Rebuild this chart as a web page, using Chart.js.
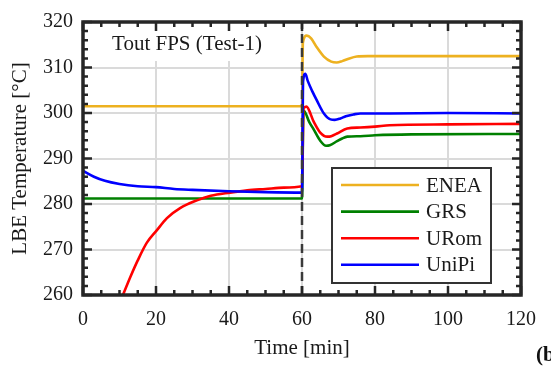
<!DOCTYPE html>
<html>
<head>
<meta charset="utf-8">
<script src="https://cdn.jsdelivr.net/npm/chart.js@4"></script>
<style>
  html, body { margin: 0; padding: 0; background: #fff; }
  canvas { display: block; }
</style>
</head>
<body>
<canvas id="chart" width="551" height="368"></canvas>
<script>
const FONT = '"Liberation Serif", "Times New Roman", serif';

// time [min] / LBE temperature [°C]
const eneaTime = [0, 60, 60.25, 61.3, 62.5, 64, 66, 68, 69.5, 71, 73, 75, 78, 90, 120];
const eneaTemp = [301.5, 301.5, 315.5, 317.0, 316.4, 314.5, 312.4, 311.3, 311.1, 311.4, 312.0, 312.4, 312.5, 312.5, 312.5];

const grsTime = [0, 60, 60.4, 62, 63.2, 65, 66.6, 67.6, 69.6, 71, 72.4, 76, 80, 90, 120];
const grsTemp = [281.2, 281.2, 300.6, 298.0, 296.4, 293.9, 292.8, 292.9, 293.8, 294.4, 294.8, 294.9, 295.1, 295.3, 295.4];

const uromTime = [11, 13, 15, 17.5, 20.2, 23, 26.6, 31.2, 35, 40.3, 45, 50, 55, 60, 60.4, 61.2, 63.2, 65, 66.9, 68, 69.6, 72.4, 76, 80, 84, 100, 120];
const uromTemp = [260.1, 264.0, 267.6, 271.5, 274.2, 276.9, 279.1, 280.8, 281.8, 282.5, 283.0, 283.3, 283.6, 283.9, 301.0, 301.4, 298.1, 295.7, 294.8, 294.9, 295.5, 296.6, 296.8, 297.0, 297.3, 297.5, 297.6];

const unipiTime = [0, 3, 6, 10, 15, 20, 25, 30, 40, 50, 60, 60.3, 60.9, 61.6, 62.8, 64.1, 66, 67.8, 69, 70.5, 72, 74.2, 76, 84, 100, 120];
const unipiTemp = [287.3, 286.0, 285.1, 284.4, 283.9, 283.7, 283.3, 283.1, 282.8, 282.6, 282.5, 307.0, 308.6, 307.0, 304.8, 302.7, 299.9, 298.6, 298.5, 298.8, 299.3, 299.7, 299.9, 299.9, 300.0, 299.9];

const seriesNames = ['ENEA', 'GRS', 'URom', 'UniPi'];
const seriesColors = ['#EDB120', '#008000', '#FF0000', '#0000FF'];

const xTicks = [0, 20, 40, 60, 80, 100, 120];
const yTicks = [260, 270, 280, 290, 300, 310, 320];
const stepTime = 60;
const annotation = 'Tout FPS (Test-1)';

function pts(t, v) {
  return t.map((x, i) => ({ x: x, y: v[i] }));
}

const seriesData = [
  pts(eneaTime, eneaTemp),
  pts(grsTime, grsTemp),
  pts(uromTime, uromTemp),
  pts(unipiTime, unipiTemp)
];

const datasets = seriesData.map((d, i) => ({
  label: seriesNames[i],
  data: d,
  borderColor: seriesColors[i],
  borderWidth: 2.6,
  pointRadius: 0,
  cubicInterpolationMode: 'monotone',
  order: 4 - i
}));

// vertical dashed line at the step
datasets.push({
  label: 'step',
  data: [{ x: stepTime, y: yTicks[0] }, { x: stepTime, y: yTicks[yTicks.length - 1] }],
  borderColor: '#3a3a3a',
  borderWidth: 2.5,
  borderDash: [9, 5],
  pointRadius: 0,
  order: 0
});

// white box with the case title
const notePlugin = {
  id: 'note',
  beforeDatasetsDraw(c) {
    const ctx = c.ctx;
    ctx.save();
    ctx.fillStyle = '#fff';
    ctx.fillRect(97, 14, 174, 47);
    ctx.fillStyle = '#1a1a1a';
    ctx.font = '21px ' + FONT;
    ctx.textAlign = 'center';
    ctx.textBaseline = 'middle';
    ctx.fillText(annotation, 187, 44);
    ctx.restore();
  }
};

// thick frame and inward ticks on all four sides
const framePlugin = {
  id: 'frame',
  afterDatasetsDraw(c) {
    const ctx = c.ctx;
    const a = c.chartArea;
    const xs = c.scales.x, ys = c.scales.y;
    ctx.save();
    ctx.strokeStyle = '#262626';
    ctx.lineWidth = 2.5;
    ctx.beginPath();
    for (let v = xs.min; v <= xs.max; v += 5) {
      const px = xs.getPixelForValue(v);
      const len = v % 20 === 0 ? 9 : 5;
      ctx.moveTo(px, a.bottom); ctx.lineTo(px, a.bottom - len);
      ctx.moveTo(px, a.top); ctx.lineTo(px, a.top + len);
    }
    for (let v = ys.min; v <= ys.max; v += 2) {
      const py = ys.getPixelForValue(v);
      const len = v % 10 === 0 ? 9 : 5;
      ctx.moveTo(a.left, py); ctx.lineTo(a.left + len, py);
      ctx.moveTo(a.right, py); ctx.lineTo(a.right - len, py);
    }
    ctx.stroke();
    ctx.lineWidth = 3.5;
    ctx.strokeRect(a.left, a.top, a.right - a.left, a.bottom - a.top);

    // panel letter, cut by the right edge as in the figure
    ctx.fillStyle = '#111';
    ctx.font = 'bold 21px ' + FONT;
    ctx.textAlign = 'left';
    ctx.textBaseline = 'middle';
    ctx.fillText('(b)', 536, 356);
    ctx.restore();
  }
};

// boxed legend inside the plot, lower right
const legendPlugin = {
  id: 'boxLegend',
  afterDraw(c) {
    const ctx = c.ctx;
    const a = c.chartArea;
    const w = 159, h = 115;
    const x0 = a.right - 30 - w, y0 = a.bottom - 12 - h;
    ctx.save();
    ctx.fillStyle = '#fff';
    ctx.fillRect(x0, y0, w, h);
    ctx.strokeStyle = '#333';
    ctx.lineWidth = 2;
    ctx.strokeRect(x0, y0, w, h);
    ctx.font = '21px ' + FONT;
    ctx.textAlign = 'left';
    ctx.textBaseline = 'middle';
    c.data.datasets.slice(0, 4).forEach((ds, i) => {
      const y = y0 + 17 + i * 26.6;
      ctx.strokeStyle = ds.borderColor;
      ctx.lineWidth = 2.6;
      ctx.beginPath();
      ctx.moveTo(x0 + 9, y);
      ctx.lineTo(x0 + 87, y);
      ctx.stroke();
      ctx.fillStyle = '#1a1a1a';
      ctx.fillText(ds.label, x0 + 94, y + 1);
    });
    ctx.restore();
  }
};

new Chart(document.getElementById('chart'), {
  type: 'line',
  data: { datasets },
  options: {
    responsive: false,
    animation: false,
    layout: { padding: { top: 12.5, right: 30, bottom: 0, left: 0 } },
    plugins: {
      legend: { display: false },
      tooltip: { enabled: false }
    },
    scales: {
      x: {
        type: 'linear',
        min: xTicks[0],
        max: xTicks[xTicks.length - 1],
        afterBuildTicks: s => { s.ticks = xTicks.map(v => ({ value: v })); },
        afterFit: s => { s.height = 73; },
        grid: { color: '#dadada', lineWidth: 2, drawTicks: false },
        border: { display: false },
        ticks: { color: '#1a1a1a', padding: 13, font: { family: FONT, size: 20 } },
        title: {
          display: true,
          text: 'Time [min]',
          color: '#1a1a1a',
          font: { family: FONT, size: 21 },
          padding: { top: 0, bottom: 7 }
        }
      },
      y: {
        type: 'linear',
        min: yTicks[0],
        max: yTicks[yTicks.length - 1],
        afterBuildTicks: s => { s.ticks = yTicks.map(v => ({ value: v })); },
        afterFit: s => { s.width = 83; },
        grid: { color: '#dadada', lineWidth: 2, drawTicks: false },
        border: { display: false },
        ticks: { color: '#1a1a1a', padding: 10, font: { family: FONT, size: 20 } },
        title: {
          display: true,
          text: 'LBE Temperature [°C]',
          color: '#1a1a1a',
          font: { family: FONT, size: 21 },
          padding: { top: 8, bottom: 0 }
        }
      }
    }
  },
  plugins: [notePlugin, framePlugin, legendPlugin]
});
</script>
</body>
</html>
